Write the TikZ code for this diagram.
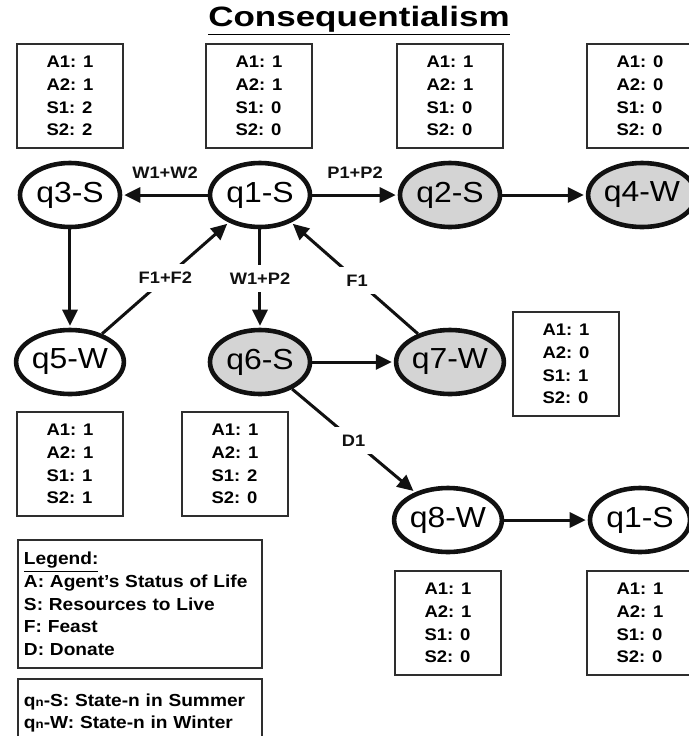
\documentclass[tikz,border=0pt]{standalone}
\usepackage{fontspec}
\setmainfont{Liberation Sans}[FakeStretch=1.1]
\newfontfamily\titlefont{Liberation Sans}[FakeStretch=1.25]
\usetikzlibrary{arrows.meta,positioning,shapes.geometric}
\definecolor{ink}{HTML}{111111}
\definecolor{ink2}{HTML}{2E2E2E}
\definecolor{shade}{HTML}{D4D4D4}
\tikzset{
  >={Triangle[length=8pt,width=7.5pt]},
  st/.style={ellipse,draw=ink,line width=2.3pt,fill=white,minimum width=50pt,minimum height=32pt,inner sep=0pt,font=\fontsize{14.5}{16}\selectfont},
  sts/.style={st,fill=shade},
  vb/.style={draw=ink2,line width=1pt,minimum width=53pt,minimum height=52pt,align=left,inner sep=2pt,font=\bfseries\fontsize{8.4}{11.3}\selectfont},
  arr/.style={->,draw=ink,line width=1.5pt,shorten >=1pt},
  lab/.style={font=\bfseries\fontsize{8.3}{10}\selectfont,text=ink},
  cut/.style={lab,fill=white,inner sep=4pt},
  leg/.style={draw=ink2,line width=1pt,anchor=north west,text width=116pt,inner sep=3pt,align=left,font=\bfseries\fontsize{8.7}{11.35}\selectfont},
}
\begin{document}
\begin{tikzpicture}[x=0.5pt,y=-0.5pt]
  \clip (0,0) rectangle (689,736);
  % title
  \node[font=\titlefont\bfseries\fontsize{14}{16}\selectfont] (title) at (359,21) {\underline{Consequentialism}};
  % value boxes, top row
  \node[vb] (v3) at (70,96)  {A1: 1\\A2: 1\\S1: 2\\S2: 2};
  \node[vb] (v1) at (259,96) {A1: 1\\A2: 1\\S1: 0\\S2: 0};
  \node[vb] (v2) at (450,96) {A1: 1\\A2: 1\\S1: 0\\S2: 0};
  \node[vb] (v4) at (640,96) {A1: 0\\A2: 0\\S1: 0\\S2: 0};
  % states
  \node[st]  (q3) at (70,195)  {q3-S};
  \node[st]  (q1) at (260,195) {q1-S};
  \node[sts] (q2) at (450,195) {q2-S};
  \node[sts] (q4) at (642,195) {q4-W};
  \node[st]  (q5) at (70,362)  {q5-W};
  \node[sts] (q6) at (260,362) {q6-S};
  \node[sts] (q7) at (450,362) {q7-W};
  \node[st]  (q8) at (448,520) {q8-W};
  \node[st]  (q1b) at (640,520) {q1-S};
  % value boxes, lower part
  \node[vb] (v7) at (566,364) {A1: 1\\A2: 0\\S1: 1\\S2: 0};
  \node[vb] (v5) at (70,464)  {A1: 1\\A2: 1\\S1: 1\\S2: 1};
  \node[vb] (v6) at (235,464) {A1: 1\\A2: 1\\S1: 2\\S2: 0};
  \node[vb] (v8) at (448,623) {A1: 1\\A2: 1\\S1: 0\\S2: 0};
  \node[vb] (v1b) at (640,623) {A1: 1\\A2: 1\\S1: 0\\S2: 0};
  % legend
  \node[leg,minimum height=64pt] (legend) at (17,539) {\underline{Legend:}\\A: Agent's Status of Life\\S: Resources to Live\\F: Feast\\D: Donate};
  \node[leg,minimum height=34pt] (key) at (17,678) {q{\fontsize{6}{6}\selectfont n}-S: State-n in Summer\\q{\fontsize{6}{6}\selectfont n}-W: State-n in Winter};
  % transitions
  \draw[arr] (q1) -- node[lab,above=4pt]{W1+W2} (q3);
  \draw[arr] (q1) -- node[lab,above=4pt]{P1+P2} (q2);
  \draw[arr] (q2) -- (q4);
  \draw[arr] (q3) -- (q5);
  \draw[arr] (q5) -- node[cut]{F1+F2} (q1);
  \draw[arr] (q1) -- node[cut]{W1+P2} (q6);
  \draw[arr] (q7) -- node[cut,pos=0.48]{F1} (q1);
  \draw[arr] (q6) -- (q7);
  \draw[arr] (q6) -- node[cut]{D1} (q8);
  \draw[arr] (q8) -- (q1b);
\end{tikzpicture}
\end{document}
